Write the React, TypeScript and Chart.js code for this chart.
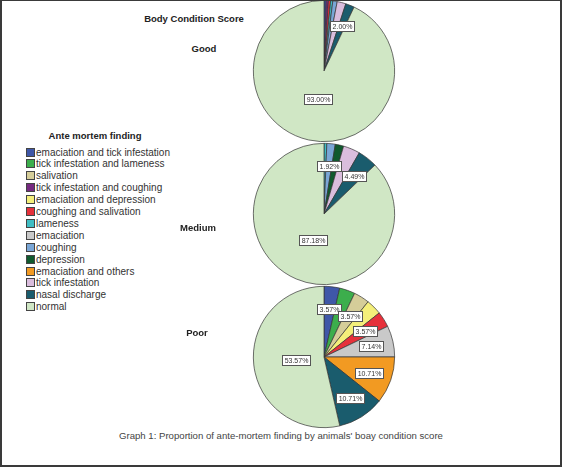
import { useEffect, useRef } from "react"
import { Chart, registerables } from "chart.js"
import type { Plugin } from "chart.js"

Chart.register(...registerables)

const findings = [
  "emaciation and tick infestation",
  "tick infestation and lameness",
  "salivation",
  "tick infestation and coughing",
  "emaciation and depression",
  "coughing and salivation",
  "lameness",
  "emaciation",
  "coughing",
  "depression",
  "emaciation and others",
  "tick infestation",
  "nasal discharge",
  "normal",
]

const findingColors = [
  "#3f57a8",
  "#3cae4c",
  "#d5cd99",
  "#762a80",
  "#f4ef7a",
  "#e6313b",
  "#40bec4",
  "#c9c9c9",
  "#7aa6d6",
  "#105a2e",
  "#f29a22",
  "#dabddd",
  "#1a5c6d",
  "#d0e7c5",
]

// percentages per body condition score, same order as findings
const goodValues = [0.5, 0, 0, 0.5, 0, 0.5, 0.5, 0, 1.0, 0, 0, 2.0, 2.0, 93.0]
const mediumValues = [0, 0, 0, 0, 0, 0, 0.64, 0, 1.92, 1.92, 0, 3.85, 4.49, 87.18]
const poorValues = [3.57, 3.57, 3.57, 0, 3.57, 3.57, 0, 7.14, 0, 0, 10.71, 0, 10.71, 53.57]

// which slices carry a percentage box
const goodLabelIdx = [12, 13]
const mediumLabelIdx = [8, 12, 13]
const poorLabelIdx = [0, 2, 5, 7, 10, 12, 13]

const FONT = "Arial, 'Liberation Sans', Helvetica, sans-serif"

const pieLabelPlugin: Plugin<"pie"> = {
  id: "pieLabels",
  afterDatasetsDraw(chart, _args, opts: any) {
    const ctx = chart.ctx
    const meta = chart.getDatasetMeta(0)
    const values = chart.data.datasets[0].data as number[]
    const show: number[] = opts.show || []
    ctx.save()
    ctx.font = `7px ${FONT}`
    ctx.textAlign = "center"
    ctx.textBaseline = "middle"
    show.forEach((i) => {
      const arc: any = meta.data[i]
      if (!arc) return
      const { x, y, startAngle, endAngle, outerRadius } = arc.getProps(
        ["x", "y", "startAngle", "endAngle", "outerRadius"],
        true
      )
      const mid = (startAngle + endAngle) / 2
      const frac = values[i] > 50 ? 0.4 : 0.68
      const lx = x + Math.cos(mid) * outerRadius * frac
      const ly = y + Math.sin(mid) * outerRadius * frac
      const text = values[i].toFixed(2) + "%"
      const w = Math.round(ctx.measureText(text).width + 4)
      const h = 10
      const bx = Math.round(lx - w / 2) + 0.5
      const by = Math.round(ly - h / 2) + 0.5
      ctx.fillStyle = "#ffffff"
      ctx.fillRect(bx, by, w, h)
      ctx.strokeStyle = "#555555"
      ctx.lineWidth = 1
      ctx.strokeRect(bx, by, w, h)
      ctx.fillStyle = "#333333"
      ctx.fillText(text, bx + w / 2, by + h / 2 + 0.5)
    })
    ctx.restore()
  },
}

interface PieProps {
  values: number[]
  show: number[]
  cx: number
  cy: number
}

const PIE_SIZE = 146

function ScorePie({ values, show, cx, cy }: PieProps) {
  const chartRef = useRef<HTMLCanvasElement>(null)
  const chartInstance = useRef<Chart | null>(null)

  useEffect(() => {
    if (!chartRef.current) return
    if (chartInstance.current) chartInstance.current.destroy()
    const ctx = chartRef.current.getContext("2d")
    if (!ctx) return

    chartInstance.current = new Chart(ctx, {
      type: "pie",
      data: {
        labels: findings,
        datasets: [
          {
            data: values,
            backgroundColor: findingColors,
            borderColor: "#333333",
            borderWidth: 0.7,
          },
        ],
      },
      options: {
        responsive: false,
        animation: false,
        layout: { padding: 2 },
        plugins: {
          legend: { display: false },
          tooltip: { enabled: false },
          pieLabels: { show },
        } as any,
      },
      plugins: [pieLabelPlugin],
    })

    return () => {
      if (chartInstance.current) {
        chartInstance.current.destroy()
        chartInstance.current = null
      }
    }
  }, [values, show])

  return (
    <canvas
      ref={chartRef}
      width={PIE_SIZE}
      height={PIE_SIZE}
      style={{
        position: "absolute",
        left: cx - PIE_SIZE / 2,
        top: cy - PIE_SIZE / 2,
        width: PIE_SIZE,
        height: PIE_SIZE,
      }}
    />
  )
}

function Label({ text, x, y, bold, size, color, align }: any) {
  return (
    <div
      style={{
        position: "absolute",
        left: x,
        top: y,
        transform: align === "left" ? "translateY(-50%)" : "translate(-50%, -50%)",
        whiteSpace: "nowrap",
        fontFamily: FONT,
        fontWeight: bold ? "bold" : "normal",
        fontSize: size,
        color: color || "#222",
        lineHeight: 1,
      }}
    >
      {text}
    </div>
  )
}

export default function App() {
  return (
    <div
      style={{
        position: "fixed",
        left: 0,
        top: 0,
        width: 562,
        height: 467,
        background: "#fff",
        overflow: "hidden",
      }}
    >
      <ScorePie values={goodValues} show={goodLabelIdx} cx={323.5} cy={71} />
      <ScorePie values={mediumValues} show={mediumLabelIdx} cx={323.5} cy={214} />
      <ScorePie values={poorValues} show={poorLabelIdx} cx={323.5} cy={357} />

      <Label text="Body Condition Score" x={194} y={19} bold size={9.5} />
      <Label text="Good" x={204} y={49} bold size={9.5} />
      <Label text="Medium" x={198} y={228} bold size={9.5} />
      <Label text="Poor" x={197} y={333} bold size={9.5} />

      <Label text="Ante mortem finding" x={95} y={136} bold size={9.5} />
      {findings.map((name, i) => (
        <div key={name}>
          <div
            style={{
              position: "absolute",
              left: 26,
              top: 152 + i * 11.9 - 4.5,
              width: 7,
              height: 7,
              background: findingColors[i],
              border: "1px solid #444",
            }}
          />
          <Label text={name} x={36} y={152.5 + i * 11.9} size={10} color="#333" align="left" />
        </div>
      ))}

      <Label
        text="Graph 1: Proportion of ante-mortem finding by animals' boay condition score"
        x={281}
        y={436}
        size={9.6}
        color="#444"
      />

      <div
        style={{
          position: "absolute",
          left: 0,
          top: 0,
          width: 562,
          height: 467,
          boxSizing: "border-box",
          borderTop: "1px solid #3a3a3a",
          borderLeft: "2px solid #3a3a3a",
          borderRight: "2px solid #3a3a3a",
          borderBottom: "2px solid #3a3a3a",
          pointerEvents: "none",
        }}
      />
    </div>
  )
}
